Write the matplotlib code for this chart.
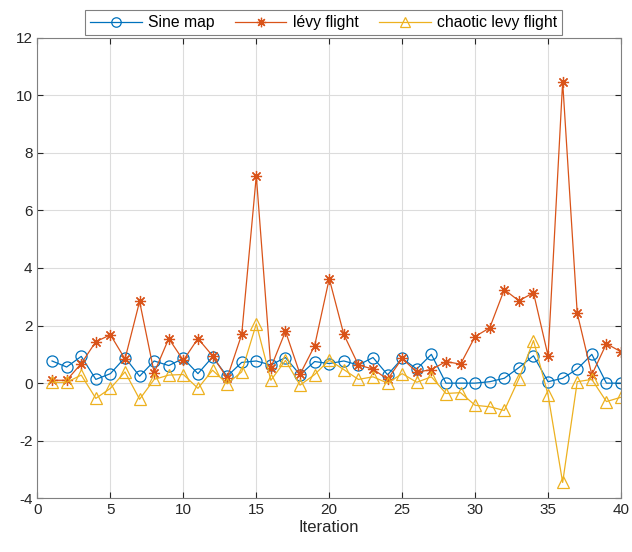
import numpy as np
import matplotlib
matplotlib.use('Agg')
import matplotlib.pyplot as plt

plt.rcParams['font.family'] = ['Liberation Sans', 'DejaVu Sans']
plt.rcParams['axes.unicode_minus'] = False

iteration = np.arange(1, 41)

sine_map = [0.77, 0.56, 0.93, 0.13, 0.33, 0.89, 0.24, 0.77, 0.61, 0.86,
            0.33, 0.91, 0.24, 0.72, 0.77, 0.63, 0.89, 0.29, 0.75, 0.68,
            0.77, 0.63, 0.89, 0.29, 0.86, 0.49, 1.00, 0.00, 0.00, 0.00,
            0.05, 0.17, 0.54, 0.95, 0.05, 0.17, 0.49, 1.00, 0.00, 0.00]

levy_flight = [0.10, 0.10, 0.68, 1.44, 1.68, 0.84, 2.84, 0.36, 1.55, 0.79,
               1.55, 0.95, 0.18, 1.69, 7.20, 0.54, 1.80, 0.31, 1.30, 3.63,
               1.69, 0.63, 0.49, 0.13, 0.86, 0.38, 0.47, 0.75, 0.66, 1.62,
               1.92, 3.25, 2.86, 3.14, 0.95, 10.47, 2.43, 0.29, 1.37, 1.09]

chaotic_levy = [0.03, 0.03, 0.28, -0.53, -0.18, 0.39, -0.56, 0.13, 0.28, 0.30,
                -0.18, 0.45, -0.02, 0.39, 2.06, 0.10, 0.79, -0.07, 0.30, 0.80,
                0.47, 0.13, 0.22, 0.00, 0.33, 0.03, 0.22, -0.36, -0.33, -0.77,
                -0.82, -0.95, 0.15, 1.48, -0.41, -3.45, 0.05, 0.13, -0.64, -0.49]

fig = plt.figure(figsize=(6.32, 5.52), dpi=100)
ax = fig.add_axes([0.0593, 0.0973, 0.9233, 0.8344])

ax.plot(iteration, sine_map, color='#0072BD', lw=0.9, marker='o', ms=8,
        mfc='none', mew=0.9, label='Sine map')
ax.plot(iteration, levy_flight, color='#D95319', lw=0.9, marker=(8, 2, 0), ms=8,
        mew=0.9, label='lévy flight')
ax.plot(iteration, chaotic_levy, color='#EDB120', lw=0.9, marker='^', ms=9,
        mfc='none', mew=0.9, label='chaotic levy flight')

ax.set_xlim(0, 40)
ax.set_ylim(-4, 12)
ax.set_xticks(np.arange(0, 41, 5))
ax.set_yticks(np.arange(-4, 13, 2))
ax.grid(color='#dcdcdc', lw=0.8)
ax.set_axisbelow(True)
ax.tick_params(direction='in', top=True, right=True, labelsize=11, colors='#262626',
               length=4, width=0.8)
for s in ax.spines.values():
    s.set_color('#808080')
    s.set_linewidth(0.8)
ax.set_xlabel('Iteration', fontsize=12, color='#262626', labelpad=2)

leg = ax.legend(loc='lower center', bbox_to_anchor=(0.49, 1.003), ncol=3, fontsize=11.3,
                fancybox=False, edgecolor='#808080', framealpha=1,
                borderpad=0.3, handlelength=3.3, columnspacing=1.3, handletextpad=0.4,
                borderaxespad=0.1, markerscale=0.85)
leg.get_frame().set_linewidth(0.8)

fig.savefig('out.png', dpi=100)
